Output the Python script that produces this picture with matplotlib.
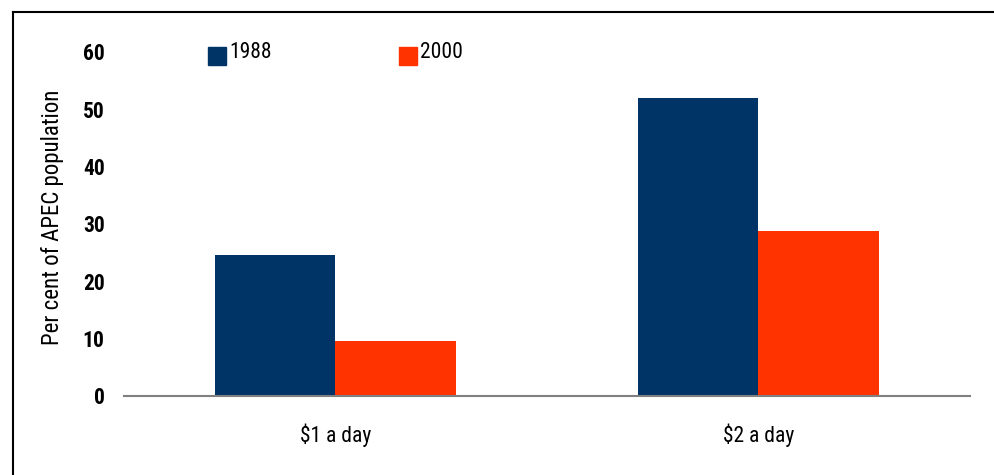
import numpy as np
import matplotlib
matplotlib.use("Agg")
import matplotlib.pyplot as plt
from matplotlib.lines import Line2D
from matplotlib.patches import Rectangle

categories = ["$1 a day", "$2 a day"]
years = ["1988", "2000"]
vals_1988 = [24.6, 52.0]
vals_2000 = [9.6, 28.8]
colors = ["#003366", "#ff3300"]

plt.rcParams["font.family"] = ["Roboto Condensed", "Liberation Sans", "DejaVu Sans"]

fig = plt.figure(figsize=(9.95, 4.75), dpi=100)
ax = fig.add_axes([124 / 995, 1 - 396 / 475, (970 - 124) / 995, (396 - 52) / 475])

x = np.arange(len(categories))
w = 0.285
ax.bar(x - w / 2, vals_1988, w, color=colors[0])
ax.bar(x + w / 2, vals_2000, w, color=colors[1])

ax.set_xlim(-0.5, 1.5)
ax.set_ylim(0, 60)
ax.set_yticks(range(0, 61, 10))
ax.set_xticks(x)
ax.set_xticklabels(categories, fontsize=15.5)
for t in ax.get_yticklabels():
    t.set_fontweight("bold")
    t.set_fontsize(15.5)
ax.tick_params(axis="y", length=0, pad=14)
ax.tick_params(axis="x", length=0, pad=20)
for s in ["top", "right", "left"]:
    ax.spines[s].set_visible(False)
ax.spines["bottom"].set_color("#808080")
ax.spines["bottom"].set_linewidth(1.5)
ax.set_ylabel("Per cent of APEC population", fontsize=16.5)
ax.yaxis.set_label_coords(-0.071, 0.52)

# legend drawn as squares + text in figure coords
for (lx, tx, lab, c) in [(208, 229, years[0], colors[0]), (399, 420, years[1], colors[1])]:
    fig.add_artist(Rectangle((lx / 995, 1 - 65 / 475), 18 / 995, 18 / 475,
                             transform=fig.transFigure, color=c))
    fig.text(tx / 995, 1 - 53 / 475, lab, fontsize=15.5, va="center", ha="left")

# frame lines
fig.add_artist(Line2D([13 / 995, 13 / 995], [0, 1 - 12 / 475], color="black", lw=1.5,
                      transform=fig.transFigure))
fig.add_artist(Line2D([13 / 995, 1], [1 - 12 / 475, 1 - 12 / 475], color="black", lw=1.5,
                      transform=fig.transFigure))

fig.savefig("out.png", dpi=100)
